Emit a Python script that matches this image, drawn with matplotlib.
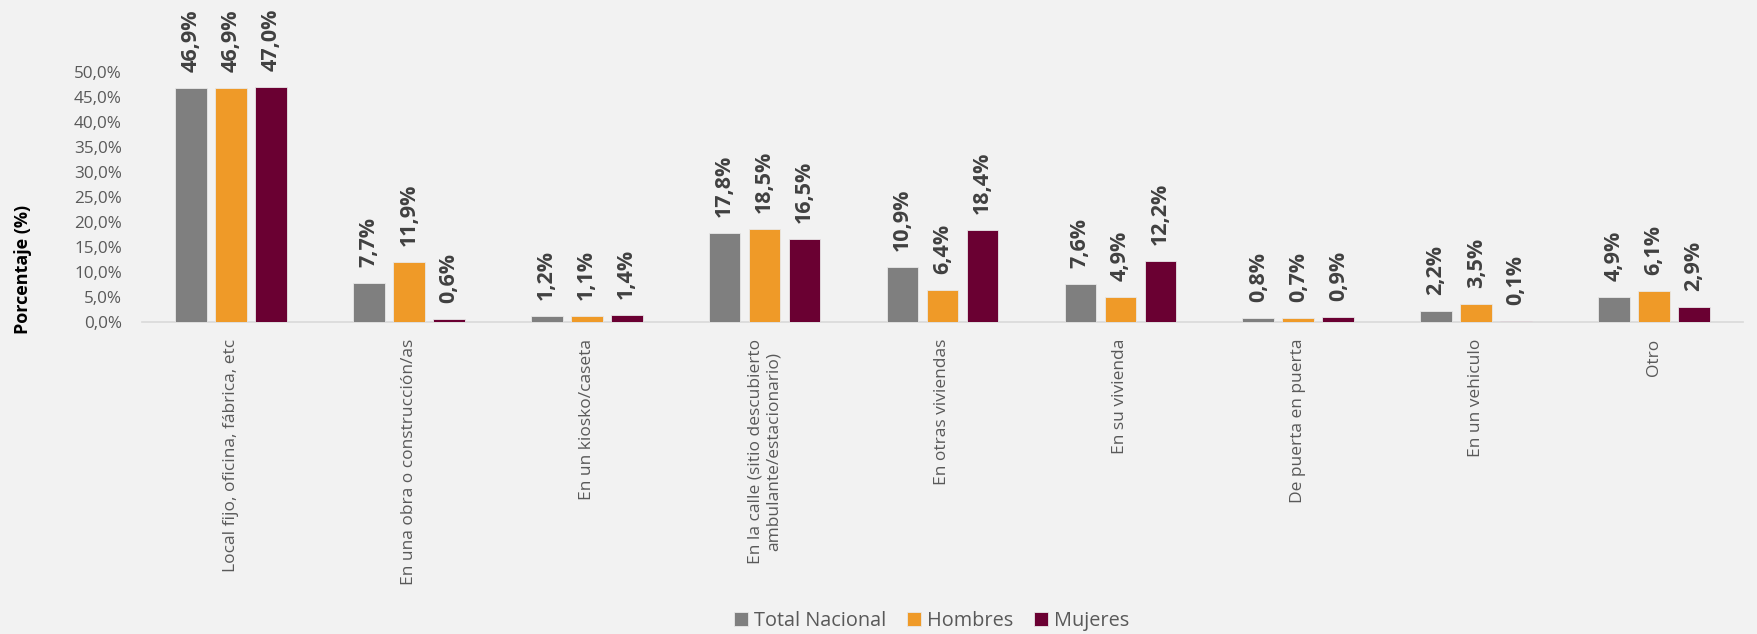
import numpy as np
import matplotlib
matplotlib.use("Agg")
import matplotlib.pyplot as plt

# --- Données ---
categorias = [
    "Local fijo, oficina, fábrica, etc",
    "En una obra o construcción/as",
    "En un kiosko/caseta",
    "En la calle (sitio descubierto\nambulante/estacionario)",
    "En otras viviendas",
    "En su vivienda",
    "De puerta en puerta",
    "En un vehiculo",
    "Otro",
]
total_nacional = [46.9, 7.7, 1.2, 17.8, 10.9, 7.6, 0.8, 2.2, 4.9]
hombres = [46.9, 11.9, 1.1, 18.5, 6.4, 4.9, 0.7, 3.5, 6.1]
mujeres = [47.0, 0.6, 1.4, 16.5, 18.4, 12.2, 0.9, 0.1, 2.9]
series_nombres = ["Total Nacional", "Hombres", "Mujeres"]
y_ticks = [0, 5, 10, 15, 20, 25, 30, 35, 40, 45, 50]

# --- Style ---
FOND = "#f2f2f2"
COULEURS = ["#7f7f7f", "#ef9a28", "#6a0032"]
TEXTE = "#595959"
plt.rcParams['font.family'] = ['Open Sans', 'DejaVu Sans']

fig = plt.figure(figsize=(17.58, 6.34), dpi=100, facecolor=FOND)
ax = fig.add_axes([142 / 1758, 1 - 322 / 634, (1743 - 142) / 1758, (322 - 72) / 634])
ax.set_facecolor(FOND)

x = np.arange(len(categorias))
pas = 0.225
largeur = 0.178
for i, (nom, vals) in enumerate(zip(series_nombres, [total_nacional, hombres, mujeres])):
    pos = x + (i - 1) * pas
    ax.bar(pos, vals, width=largeur, color=COULEURS[i], edgecolor="#e8e8e8",
           linewidth=0.6, label=nom, zorder=3)
    for xb, v in zip(pos, vals):
        ax.annotate(f"{v:.1f}%".replace(".", ","), xy=(xb, v), xytext=(0, 16),
                    textcoords="offset pixels", rotation=90, ha="center", va="bottom",
                    fontsize=15.5, fontweight="bold", color="#404040", annotation_clip=False)

ax.set_xlim(-0.5, len(categorias) - 0.5)
ax.set_ylim(0, 50)
ax.set_yticks(y_ticks)
ax.set_yticklabels([f"{t:.1f}%".replace(".", ",") for t in y_ticks], fontsize=12.3, color=TEXTE)
ax.set_xticks(x)
ax.set_xticklabels(categorias, rotation=90, fontsize=12.5, color=TEXTE,
                   va="top", ha="center", multialignment="center")
ax.tick_params(axis="both", length=0)
ax.tick_params(axis="x", pad=12)
ax.tick_params(axis="y", pad=14.5)

for s in ["top", "right", "left"]:
    ax.spines[s].set_visible(False)
ax.spines["bottom"].set_color("#d9d9d9")
ax.spines["bottom"].set_linewidth(1.2)

ax.set_ylabel("Porcentaje (%)", fontsize=13, fontweight="bold", color="black")
ax.yaxis.set_label_coords(-0.069, 0.21)

fig.legend(loc="center", bbox_to_anchor=(932 / 1758, 1 - 621 / 634), ncol=3, frameon=False,
           fontsize=14.3, labelcolor=TEXTE, handlelength=0.7, handleheight=0.7,
           handletextpad=0.3, columnspacing=1.05)

fig.savefig("out.png", dpi=100, facecolor=FOND)
